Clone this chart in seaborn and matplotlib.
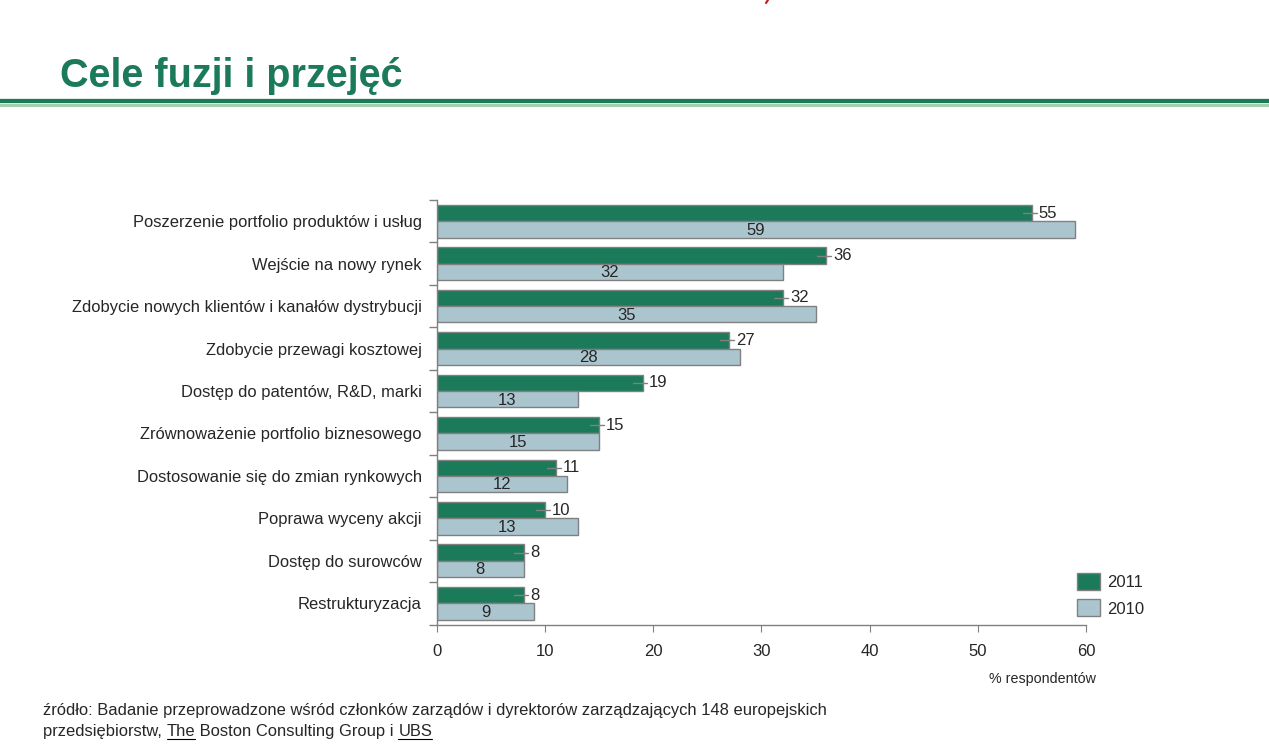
import pandas as pd
import seaborn as sns
import matplotlib.pyplot as plt
from matplotlib.lines import Line2D
from matplotlib.patches import Patch


# Chart data
categories = [
    "Poszerzenie portfolio produktów i usług",
    "Wejście na nowy rynek",
    "Zdobycie nowych klientów i kanałów dystrybucji",
    "Zdobycie przewagi kosztowej",
    "Dostęp do patentów, R&D, marki",
    "Zrównoważenie portfolio biznesowego",
    "Dostosowanie się do zmian rynkowych",
    "Poprawa wyceny akcji",
    "Dostęp do surowców",
    "Restrukturyzacja",
]
values_2011 = [55, 36, 32, 27, 19, 15, 11, 10, 8, 8]
values_2010 = [59, 32, 35, 28, 13, 15, 12, 13, 8, 9]
years = ["2011", "2010"]
x_ticks = [0, 10, 20, 30, 40, 50, 60]

title = "Cele fuzji i przejęć"
x_label = "% respondentów"
source_line1 = "źródło: Badanie przeprowadzone wśród członków zarządów i dyrektorów zarządzających 148 europejskich"
source_line2 = ["przedsiębiorstw, ", "The", " Boston Consulting Group i ", "UBS"]

GREEN = "#1a7a5a"
LIGHT = "#abc5cf"
EDGE = "#808080"

# Build long table for seaborn
df = pd.DataFrame({
    "category": categories * 2,
    "value": values_2011 + values_2010,
    "year": [years[0]] * len(categories) + [years[1]] * len(categories),
})

sns.set_style("white")
plt.rcParams["font.family"] = ["Liberation Sans", "DejaVu Sans"]

W, H = 1269, 756
fig = plt.figure(figsize=(W / 100, H / 100), dpi=100)
ax = fig.add_axes([437 / W, 1 - 624.5 / H, (1086 - 437) / W, (624.5 - 200) / H])

sns.barplot(
    data=df, y="category", x="value", hue="year",
    order=categories, hue_order=years,
    palette=[GREEN, LIGHT], orient="h", width=0.77,
    edgecolor=EDGE, linewidth=1, saturation=1,
    legend=False, ax=ax,
)

ax.set_xlim(0, 60)
ax.set_ylim(len(categories) - 0.5, -0.5)
ax.set_xticks(x_ticks)
ax.set_xticklabels([str(t) for t in x_ticks], fontsize=12)
ax.tick_params(axis="x", bottom=True, length=5, color=EDGE, direction="out", pad=9)
ax.set_yticks(range(len(categories)))
ax.set_yticklabels(categories, fontsize=11.9)
ax.tick_params(axis="y", left=True, length=0, pad=11)
ax.set_yticks([i - 0.5 for i in range(len(categories) + 1)], minor=True)
ax.tick_params(axis="y", which="minor", left=True, length=6, width=1, color=EDGE, direction="out")
ax.set_xlabel("")
ax.set_ylabel("")
for side in ["top", "right"]:
    ax.spines[side].set_visible(False)
for side in ["left", "bottom"]:
    ax.spines[side].set_color(EDGE)
    ax.spines[side].set_linewidth(1)

# Value labels: 2011 beside the bar with a leader, 2010 inside the bar
bw = 0.77 / 2
for i, (v11, v10) in enumerate(zip(values_2011, values_2010)):
    y11 = i - bw / 2
    y10 = i + bw / 2
    ax.plot([v11 - 0.85, v11 + 0.45], [y11, y11], color=EDGE, lw=1)
    ax.text(v11 + 0.62, y11, str(v11), fontsize=12, va="center", ha="left")
    ax.text(v10 / 2, y10 + 0.02, str(v10), fontsize=12, va="center", ha="center")

# Legend
handles = [Patch(facecolor=c, edgecolor=EDGE, lw=1, label=y) for c, y in zip([GREEN, LIGHT], years)]
fig.legend(
    handles=handles, loc="upper left", bbox_to_anchor=(1077 / W, 1 - 573 / H),
    frameon=False, fontsize=12, handlelength=1.38, handleheight=1.2,
    handletextpad=0.45, labelspacing=0.55, borderpad=0, borderaxespad=0,
)

# x label
fig.text(1096 / W, 1 - 679 / H, x_label, fontsize=10.3, ha="right", va="center")

# Title and rule
fig.text(60 / W, 1 - 87 / H, title, fontsize=28.5, fontweight="bold", color=GREEN,
         family=["Liberation Sans Narrow", "Liberation Sans", "DejaVu Sans"],
         ha="left", va="baseline")
fig.add_artist(Line2D([0, 1], [1 - 101.2 / H] * 2, color=GREEN, lw=3.1, transform=fig.transFigure))
fig.add_artist(Line2D([0, 1], [1 - 104.8 / H] * 2, color="#a5d0b0", lw=2.2, transform=fig.transFigure))

# tiny red fragment at the very top edge of the slide
fig.add_artist(Line2D([768 / W, 766 / W], [1, 1 - 3 / H], color="#cc1111", lw=1.5,
                      transform=fig.transFigure))

# Source
fig.text(43 / W, 1 - 715 / H, source_line1, fontsize=11.9, ha="left", va="baseline")
renderer = fig.canvas.get_renderer()
x_px = 43
for k, part in enumerate(source_line2):
    t = fig.text(x_px / W, 1 - 736 / H, part, fontsize=11.9, ha="left", va="baseline")
    w = t.get_window_extent(renderer).width
    if k in (1, 3):
        fig.add_artist(Line2D([x_px / W, (x_px + w) / W], [1 - 738.5 / H] * 2,
                              color="black", lw=0.8, transform=fig.transFigure))
    x_px += w

fig.savefig("out.png", dpi=100)
